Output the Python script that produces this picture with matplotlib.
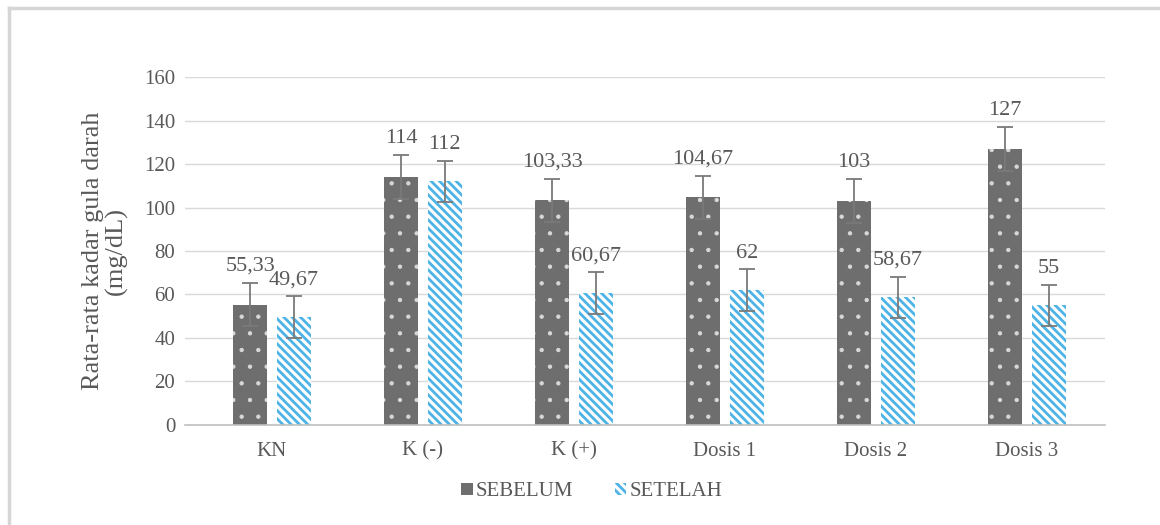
import matplotlib
matplotlib.use("Agg")
import matplotlib.pyplot as plt
import numpy as np
from matplotlib.lines import Line2D
from matplotlib.patches import Patch

categories = ["KN", "K (-)", "K (+)", "Dosis 1", "Dosis 2", "Dosis 3"]
sebelum = [55.33, 114, 103.33, 104.67, 103, 127]
setelah = [49.67, 112, 60.67, 62, 58.67, 55]
err_sebelum = [10, 10, 10, 10, 10, 10]
err_setelah = [9.5, 9.5, 9.5, 9.5, 9.5, 9.5]
labels_sebelum = ["55,33", "114", "103,33", "104,67", "103", "127"]
labels_setelah = ["49,67", "112", "60,67", "62", "58,67", "55"]
yticks = [0, 20, 40, 60, 80, 100, 120, 140, 160]

plt.rcParams['font.family'] = ['Liberation Serif', 'DejaVu Serif']
txt = '#595959'
gray = '#6e6e6e'
blue = '#4db3e6'

fig = plt.figure(figsize=(11.6, 5.25), dpi=100)
ax = fig.add_axes([0.1595, 0.1905, 0.793, 0.6628])

x = np.arange(len(categories))
w = 0.225
gap = 0.065
xs1 = x - (w + gap) / 2
xs2 = x + (w + gap) / 2

plt.rcParams['hatch.linewidth'] = 0.7
b1 = ax.bar(xs1, sebelum, w, color=gray, edgecolor='#d8d8d8', linewidth=0, hatch='.', zorder=2)
plt.rcParams['hatch.linewidth'] = 2.0
b2 = ax.bar(xs2, setelah, w, color='white', edgecolor=blue, linewidth=0, hatch='\\\\\\\\', zorder=2)

ecol = '#7a7a7a'
ax.errorbar(xs1, sebelum, yerr=err_sebelum, fmt='none', ecolor=ecol, elinewidth=1.3, capsize=6, capthick=1.3, zorder=3)
ax.errorbar(xs2, setelah, yerr=err_setelah, fmt='none', ecolor=ecol, elinewidth=1.3, capsize=6, capthick=1.3, zorder=3)

for xi, v, e, lab in zip(xs1, sebelum, err_sebelum, labels_sebelum):
    ax.annotate(lab, (xi, v + e), xytext=(0, 5), textcoords='offset points',
                ha='center', va='bottom', fontsize=16, color=txt)
for xi, v, e, lab in zip(xs2, setelah, err_setelah, labels_setelah):
    ax.annotate(lab, (xi, v + e), xytext=(0, 5), textcoords='offset points',
                ha='center', va='bottom', fontsize=16, color=txt)

ax.set_xlim(-0.576, len(categories) - 0.483)
ax.set_ylim(0, 160)
ax.set_yticks(yticks)
ax.set_yticklabels([str(t) for t in yticks], fontsize=15, color=txt)
ax.set_xticks(x)
ax.set_xticklabels(categories, fontsize=15, color=txt)
ax.tick_params(axis='y', length=0, pad=7)
ax.tick_params(axis='x', length=0, pad=12)
ax.grid(axis='y', color='#d9d9d9', linewidth=1, zorder=0)
ax.set_axisbelow(True)
for s in ['top', 'right', 'left']:
    ax.spines[s].set_visible(False)
ax.spines['bottom'].set_color('#bfbfbf')
ax.spines['bottom'].set_linewidth(1.2)

ax.set_ylabel("Rata-rata kadar gula darah\n(mg/dL)", fontsize=19, color=txt, labelpad=12, linespacing=1.0)

h1 = Patch(facecolor=gray, edgecolor='#d8d8d8', linewidth=0)
h2 = Patch(facecolor='white', edgecolor=blue, linewidth=0, hatch='\\\\\\\\')
leg = fig.legend([h1, h2], ["SEBELUM", "SETELAH"], loc='center', bbox_to_anchor=(0.51, 0.063),
                 ncol=2, frameon=False, fontsize=15, handlelength=0.55, handleheight=0.55,
                 handletextpad=0.15, columnspacing=2.0)
for t in leg.get_texts():
    t.set_color(txt)

# figure border (top and left visible)
fig.add_artist(Line2D([0.0075, 0.0075], [0, 0.984], transform=fig.transFigure, color='#d6d6d6', linewidth=2.5))
fig.add_artist(Line2D([0.0075, 1.0], [0.984, 0.984], transform=fig.transFigure, color='#d6d6d6', linewidth=2.5))

fig.savefig("out.png", dpi=100)
